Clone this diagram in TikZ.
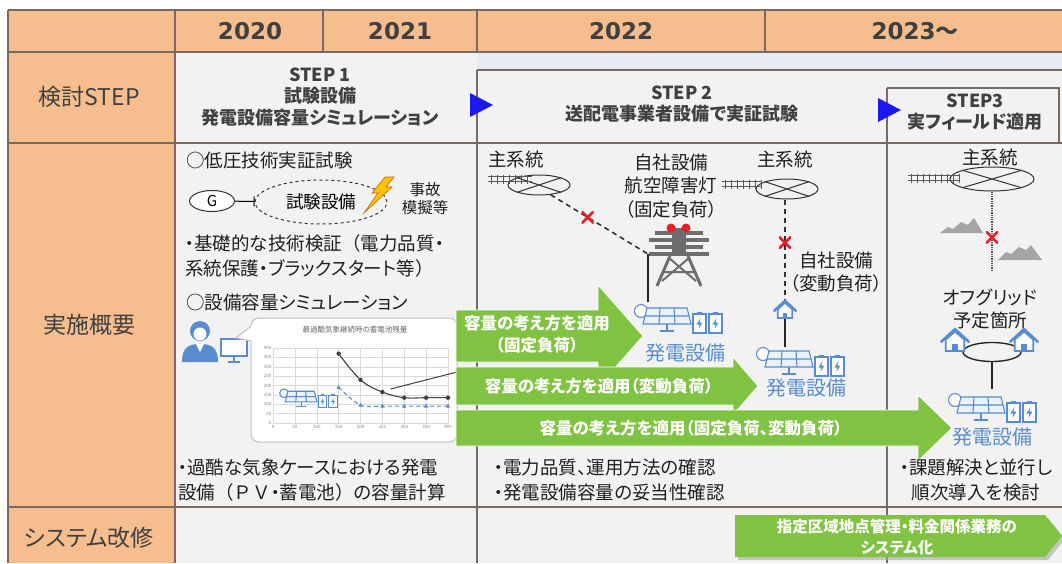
\documentclass[tikz,border=0pt]{standalone}
\usepackage{fontspec}
\setmainfont{Noto Sans CJK JP}[RawFeature=+palt]
\newfontfamily\volbreed{Noto Sans CJK JP}
\newfontfamily\latijn{DejaVu Sans}
\usepackage{tikz}
\usetikzlibrary{arrows.meta, calc, shapes.geometric}
\definecolor{oranje}{RGB}{246,190,142}
\definecolor{lijn}{RGB}{118,106,98}
\definecolor{vlak}{RGB}{242,242,242}
\definecolor{band}{RGB}{231,236,243}
\definecolor{donker}{RGB}{64,64,64}
\definecolor{groen}{RGB}{128,194,66}
\definecolor{blauw}{RGB}{25,25,240}
\definecolor{pvblauw}{RGB}{88,140,206}
\definecolor{rood}{RGB}{236,28,36}
\definecolor{grijs}{RGB}{110,110,110}
\definecolor{berg}{RGB}{165,165,165}
\definecolor{geel}{RGB}{252,196,0}

% zonnepaneel met twee accu's, linksboven op #1
\newcommand{\pvicoon}[2]{%
  \begin{scope}[shift={#1}, scale=#2, draw=pvblauw, line width=1.1pt]
    \filldraw[fill=white] (9,11) circle (6.5);
    \filldraw[fill=pvblauw!12] (15,8) -- (55,8) -- (59,24) -- (11,24) -- cycle;
    \draw (28,8) -- (27,24) (42,8) -- (43,24) (13,16) -- (57,16);
    \draw (35,24) -- (35,30) (28,31) -- (42,31);
    \foreach \dx in {0,16} {
      \filldraw[fill=white] ({61+\dx},14) rectangle ({74+\dx},33);
      \fill[pvblauw] ({65+\dx},11.5) rectangle ({70+\dx},14);
      \fill[pvblauw] ({68.5+\dx},18) -- ({64.5+\dx},24.5) -- ({67.5+\dx},24.5)
        -- ({66.5+\dx},29) -- ({70.5+\dx},22.5) -- ({67.5+\dx},22.5) -- cycle;
    }
  \end{scope}}
% huisje, onderkant midden op #1
\newcommand{\huis}[2]{%
  \begin{scope}[shift={#1}, scale=#2]
    \filldraw[fill=white, draw=pvblauw, line width=1.8pt] (-8,0) -- (-8,-10) -- (0,-17) -- (8,-10) -- (8,0) -- cycle;
    \draw[pvblauw, line width=2.6pt, line cap=round] (-12,-8) -- (0,-19) -- (12,-8);
    \fill[pvblauw] (-2.5,0) rectangle (2.5,-6);
  \end{scope}}
% hoogspanningslijn
\newcommand{\netpicto}[2]{%
  \begin{scope}[shift={#1}, black!65, line width=1pt]
    \draw (0,-2.5) -- (#2,-2.5) (0,2.5) -- (#2,2.5);
    \foreach \dx in {3,9,...,#2} \draw (\dx,-4.5) -- (\dx,4.5);
  \end{scope}}

\tikzset{
  kop/.style={font=\latijn\fontsize{23}{26}\selectfont\bfseries, text=donker},
  rijkop/.style={font=\fontsize{23}{26}\selectfont, text=donker},
  stap/.style={font=\fontsize{18}{21.5}\selectfont\bfseries, text=donker, align=center},
  tekst/.style={font=\fontsize{18.5}{25}\selectfont, text=black!88, align=left, anchor=west, inner sep=0pt},
  label/.style={font=\fontsize{18.5}{23.5}\selectfont, text=black!88, align=center, inner sep=0pt},
  pijltekst/.style={font=\fontsize{16.5}{22}\selectfont\bfseries, text=white, align=center},
  pvtekst/.style={font=\fontsize{20}{24}\selectfont, text=pvblauw},
  pijl/.style={fill=groen, draw=white, line width=0.8pt},
  rooster/.style={draw=lijn, line width=1.1pt},
  net/.style={ellipse, draw=black!80, line width=1pt, inner sep=0pt},
  stippel/.style={draw=black!80, line width=1.6pt, dash pattern=on 5pt off 4pt},
  kruis/.style={minimum size=12pt, inner sep=0pt, path picture={
    \draw[rood, solid, line width=2.6pt] (path picture bounding box.north west) -- (path picture bounding box.south east)
      (path picture bounding box.north east) -- (path picture bounding box.south west);}},
}

\begin{document}
\begin{tikzpicture}[x=1pt, y=-1pt]
  \useasboundingbox (0,0) rectangle (1062,563);
  % vlakken
  \fill[white] (0,0) rectangle (1062,563);
  \fill[vlak] (175,52) rectangle (1062,563);
  \fill[band] (477,52) rectangle (1062,70);
  \fill[oranje] (8,10) rectangle (1062,52);
  \fill[oranje] (8,52) rectangle (175,563);
  % rasterlijnen
  \draw[rooster] (8,10) -- (1062,10) (8,52) -- (1062,52) (8,143) -- (1062,143) (8,507) -- (1062,507);
  \draw[rooster] (8,10) -- (8,563) (175,10) -- (175,563) (323,10) -- (323,52) (765,10) -- (765,52);
  \draw[rooster] (477,10) -- (477,52) (477,70) -- (477,563) (887,88) -- (887,563);
  \draw[rooster] (477,70) -- (1062,70) (887,88) -- (1059,88) -- (1059,143);

  % kopregel
  \node[kop] (j2020) at (250,31) {2020};
  \node[kop] (j2021) at (400,31) {2021};
  \node[kop] (j2022) at (621,31) {2022};
  \node[kop] (j2023) at (915,31) {2023{\rmfamily ～}};
  \node[rijkop] (rstap) at (89,97) {検討STEP};
  \node[rijkop] (rinhoud) at (89,325) {実施概要};
  \node[rijkop] (rsys) at (89,538) {システム改修};

  % stappen
  \node[stap] (stap1) at (320,97) {STEP 1\\試験設備\\発電設備容量シミュレーション};
  \node[stap] (stap2) at (682,104) {STEP 2\\送配電事業者設備で実証試験};
  \node[stap] (stap3) at (975,112) {STEP3\\実フィールド適用};
  \fill[blauw] (470,93) -- (493,105) -- (470,117) -- cycle;
  \fill[blauw] (878,98) -- (901,110) -- (878,122) -- cycle;

  % STEP 1: proefopstelling
  \node[tekst] (lp) at (186,160) {○低圧技術実証試験};
  \node[net, fill=white, minimum width=45, minimum height=21, font=\fontsize{15}{15}\selectfont] (gen) at (212,201) {G};
  \node[ellipse, draw=black!80, dashed, line width=1pt, minimum width=132, minimum height=44, inner sep=0pt,
        font=\fontsize{17.5}{20}\selectfont] (proef) at (321,202) {試験設備};
  \draw[line width=1pt, -{Bar[width=10pt]}] (gen) -- (proef);
  \filldraw[fill=geel, draw=orange!80!black, line width=0.6pt] (385,177) -- (394,177) -- (386,187) -- (392,187)
    -- (364,213) -- (378,193) -- (372,193) -- cycle;
  \node[label, font=\fontsize{15.5}{18}\selectfont] (ongeval) at (425,199) {事故\\模擬等};
  \node[tekst] (basis) at (185,256) {・基礎的な技術検証{\volbreed （}電力品質・\\系統保護・ブラックスタート等{\volbreed ）}};
  \node[tekst] (simul) at (186,302) {○設備容量シミュレーション};

  % gebruiker met scherm
  \fill[pvblauw] (200,331) circle (10);
  \fill[white] (200,334) circle (6.5);
  \fill[pvblauw] (182,362) .. controls (182,347) and (189,344) .. (200,344) .. controls (211,344) and (218,347) .. (218,362) -- cycle;
  \fill[white] (196,344) -- (200,352) -- (204,344) -- cycle;
  \filldraw[fill=white, draw=pvblauw, line width=2pt] (221,339) rectangle (247,356);
  \draw[pvblauw, line width=2pt] (234,356) -- (234,362) (228,362) -- (240,362);

  % grafiek
  \filldraw[fill=white, draw=black!25, line width=1pt, rounded corners=8] (251,318) rectangle (457,442);
  \fill[white] (252,326) -- (236,338) -- (252,341) -- cycle;
  \draw[black!25, line width=1pt] (251,326) -- (236,338) -- (251,341);
  \node[font=\fontsize{7.5}{9}\selectfont, text=black!60] (titel) at (355,330) {最過酷気象継続時の蓄電池残量};
  \begin{scope}[shift={(273,423)}, xscale=0.4375, yscale=-0.1875]
    \foreach \v in {0,50,...,400} {
      \draw[black!15, line width=0.5pt] (\v,0) -- (\v,400);
      \draw[black!15, line width=0.5pt] (0,\v) -- (400,\v);
      \node[font=\fontsize{4.5}{5}\selectfont, text=black!50, left, inner sep=1.5pt] (yl\v) at (0,\v) {\v};
      \node[font=\fontsize{4.5}{5}\selectfont, text=black!50, below, inner sep=2pt] (xl\v) at (\v,0) {\v};
    }
    \foreach \i/\px/\zw/\bl in {1/150/370/190, 2/200/230/95, 3/250/165/90, 4/300/135/90, 5/350/135/90, 6/400/135/90} {
      \coordinate (z\i) at (\px,\zw);
      \coordinate (b\i) at (\px,\bl);
    }
  \end{scope}
  \draw[black!75, line width=1.1pt] plot[smooth, tension=0.6] coordinates {(z1) (z2) (z3) (z4) (z5) (z6)};
  \draw[pvblauw, line width=1.1pt, dash pattern=on 4pt off 3pt] plot[smooth, tension=0.5] coordinates {(b1) (b2) (b3) (b4) (b5) (b6)};
  \foreach \i in {1,...,6} {
    \fill[black!75] (z\i) circle (2.2);
    \fill[pvblauw] ($(b\i)+(0,-2.5)$) -- ++(2.2,4) -- ++(-4.4,0) -- cycle;
  }
  \draw[black!75, line width=1pt] ($(z3)+(8,-3)$) -- (457,372);
  \pvicoon{(278,386)}{0.66}

  % groene pijlen
  \filldraw[pijl] (456,310) -- (598,310) -- (598,285) -- (643,336) -- (598,387) -- (598,362) -- (456,362) -- cycle;
  \node[pijltekst] (p1) at (537,334) {容量の考え方を適用\\（固定負荷）};
  \filldraw[pijl] (456,367) -- (733,367) -- (733,357) -- (758,386) -- (733,415) -- (733,405) -- (456,405) -- cycle;
  \node[pijltekst] (p2) at (599,386) {容量の考え方を適用（変動負荷）};
  \filldraw[pijl] (456,410) -- (918,410) -- (918,395) -- (952,428) -- (918,461) -- (918,446) -- (456,446) -- cycle;
  \node[pijltekst] (p3) at (691,428) {容量の考え方を適用（固定負荷、変動負荷）};

  % STEP 2: hoofdnet en mast
  \node[label] (hn1) at (516,160) {主系統};
  \node[net, minimum width=62, minimum height=20] (ring1) at (539,185) {};
  \draw[black!80, line width=1pt] (ring1.north west) -- (ring1.south east) (ring1.north east) -- (ring1.south west);
  \netpicto{(488,179)}{44}
  \coordinate (arm) at (648,254);
  \coordinate (pv1top) at (648,302);
  \draw[stippel] (ring1.-40) -- (arm) node[pos=0.38, kruis] (x1) {};
  \draw[black!85, line width=1.5pt] (arm) -- (pv1top);
  \fill[grijs] (672,228) rectangle (686,256);
  \foreach \yy/\w in {233/24, 240/30, 247/24, 254/30}
    \draw[grijs, line width=3.5pt] ({679-\w},\yy) -- ({679+\w},\yy);
  \draw[grijs, line width=3pt] (670,256) -- (657,286) (688,256) -- (701,286);
  \draw[grijs, line width=2pt] (669,258) -- (696,281) (689,258) -- (662,281) (663,272) -- (695,272);
  \fill[rood] (671,228) circle (4.5);
  \fill[rood] (686,228) circle (4.5);
  \node[label] (eigen1) at (671,186) {自社設備\\航空障害灯\\（固定負荷）};

  \node[label] (hn2) at (785,160) {主系統};
  \node[net, minimum width=62, minimum height=20] (ring2) at (787,189) {};
  \draw[black!80, line width=1pt] (ring2.north west) -- (ring2.south east) (ring2.north east) -- (ring2.south west);
  \netpicto{(722,184)}{40}
  \coordinate (dak1) at (785,300);
  \coordinate (vloer1) at (785,318);
  \coordinate (pv2top) at (785,347);
  \draw[stippel] (ring2.south -| dak1) -- (dak1) node[pos=0.43, kruis] (x2) {};
  \draw[black!85, line width=1.5pt] (vloer1) -- (pv2top);
  \huis{(785,318)}{0.9}
  \node[label] (eigen2) at (836,272) {自社設備\\（変動負荷）};

  \pvicoon{(632,300)}{1}
  \node[pvtekst] (pv1) at (685,353) {発電設備};
  \pvicoon{(754,343)}{1}
  \node[pvtekst] (pv2) at (806,388) {発電設備};

  % STEP 3: eilandnet
  \node[label] (hn3) at (990,158) {主系統};
  \node[net, minimum width=84, minimum height=24] (ring3) at (992,179) {};
  \draw[black!80, line width=1pt] (ring3.north west) -- (ring3.south east) (ring3.north east) -- (ring3.south west);
  \netpicto{(908,178)}{52}
  \fill[berg] (940,233) -- (948,227) -- (953,229) -- (961,222) -- (968,225) -- (974,218) -- (983,233) -- cycle;
  \fill[berg] (998,260) -- (1006,252) -- (1011,254) -- (1019,247) -- (1026,250) -- (1031,245) -- (1042,260) -- cycle;
  \coordinate (offgrid) at (992,272);
  \draw[black!70, line width=1.3pt, densely dotted] (ring3.south) -- (offgrid) node[pos=0.57, kruis] (x3) {};
  \node[label] (plek) at (990,309) {オフグリッド\\予定箇所};
  \node[ellipse, draw=black!85, line width=1.4pt, minimum width=58, minimum height=19, inner sep=0pt] (lus) at (992,352) {};
  \huis{(955,351)}{1.15}
  \huis{(1024,351)}{1.15}
  \coordinate (pv3top) at (992,389);
  \draw[black!85, line width=1.5pt] (lus.south) -- (pv3top);
  \pvicoon{(946,389)}{1}
  \node[pvtekst] (pv3) at (992,437) {発電設備};

  % conclusies
  \node[tekst] (zwaar) at (178,480) {・過酷な気象ケースにおける発電\\設備{\volbreed （ＰＶ}・蓄電池{\volbreed ）}の容量計算};
  \node[tekst] (check) at (494,480) {・電力品質、運用方法の確認\\・発電設備容量の妥当性確認};
  \node[label, font=\fontsize{18.5}{25}\selectfont] (invoer) at (976,480) {・課題解決と並行し\\順次導入を検討};

  % systeemaanpassing
  \fill[black!35, opacity=0.6] (738,518) -- (1048,518) -- (1065,539) -- (1048,560) -- (738,560) -- cycle;
  \fill[groen] (735,515) -- (1045,515) -- (1062,536) -- (1045,557) -- (735,557) -- cycle;
  \node[pijltekst, font=\fontsize{15.5}{21}\selectfont\bfseries] (sys) at (897,537) {指定区域地点管理・料金関係業務の\\システム化};
\end{tikzpicture}
\end{document}
